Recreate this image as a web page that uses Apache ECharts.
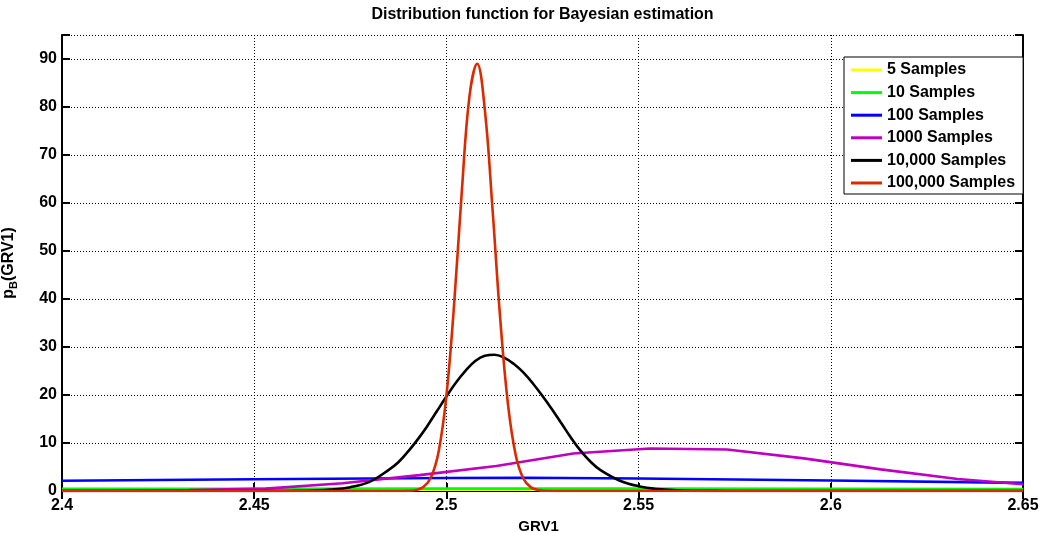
<!DOCTYPE html>
<html>
<head>
<meta charset="utf-8">
<script src="https://cdn.jsdelivr.net/npm/echarts@6/dist/echarts.min.js"></script>
<style>
html,body{margin:0;padding:0;background:#fff;}
#chart{width:1050px;height:533px;}
</style>
</head>
<body>
<div id="chart"></div>
<script>
// ---- data ----
const seriesNames = ['5 Samples', '10 Samples', '100 Samples', '1000 Samples', '10,000 Samples', '100,000 Samples'];

const x5 = [2.40, 2.45, 2.50, 2.55, 2.60, 2.65];
const y5 = [0.25, 0.25, 0.25, 0.25, 0.25, 0.25];

const x10 = [2.40, 2.45, 2.50, 2.55, 2.60, 2.65];
const y10 = [0.45, 0.47, 0.5, 0.5, 0.47, 0.42];

const x100 = [2.40, 2.45, 2.50, 2.52, 2.55, 2.60, 2.65];
const y100 = [2.15, 2.45, 2.7, 2.75, 2.6, 2.2, 1.7];

const x1000 = [2.40, 2.413, 2.433, 2.453, 2.473, 2.493, 2.513, 2.533, 2.553, 2.573, 2.593, 2.613, 2.633, 2.65];
const y1000 = [0.02, 0.05, 0.18, 0.5, 1.6, 3.3, 5.2, 7.8, 8.85, 8.65, 6.8, 4.5, 2.5, 1.4];

const x10k = [2.40, 2.45, 2.455, 2.46, 2.465, 2.47, 2.475, 2.48, 2.485, 2.4875, 2.49, 2.4925, 2.495, 2.4975, 2.50, 2.5025, 2.505, 2.5075, 2.51, 2.5125, 2.515, 2.5175, 2.52, 2.5225, 2.525, 2.5275, 2.53, 2.5325, 2.535, 2.5375, 2.54, 2.545, 2.55, 2.555, 2.56, 2.565, 2.57, 2.575, 2.65];
const y10k = [0, 0, 0.01, 0.03, 0.1, 0.3, 0.8, 1.9, 4.4, 6.0, 8.2, 10.7, 13.5, 16.6, 19.7, 22.6, 25.1, 27.1, 28.2, 28.4, 27.8, 26.5, 24.7, 22.4, 19.8, 17.0, 14.0, 11.0, 8.3, 6.1, 4.4, 2.2, 1.0, 0.4, 0.15, 0.05, 0.02, 0, 0];

const x100k = [2.40, 2.484, 2.486, 2.488, 2.490, 2.492, 2.494, 2.496, 2.498, 2.500, 2.502, 2.504, 2.506, 2.508, 2.510, 2.512, 2.514, 2.516, 2.518, 2.520, 2.522, 2.524, 2.526, 2.528, 2.530, 2.532, 2.65];
const y100k = [0, 0, 0, 0.005, 0.036, 0.19, 0.81, 2.85, 8.3, 19.8, 38.8, 62.3, 82.2, 89.0, 79.4, 58.7, 35.9, 18.2, 7.6, 2.6, 0.76, 0.18, 0.04, 0.006, 0, 0, 0];

const xTickLabels = ['2.4', '2.45', '2.5', '2.55', '2.6', '2.65'];
const yTickLabels = ['0', '10', '20', '30', '40', '50', '60', '70', '80', '90'];

// ---- chart ----
const colors = ['#ffff00', '#00ff00', '#0000ff', '#bf00bf', '#000000', '#dc2a00'];
const xs = [x5, x10, x100, x1000, x10k, x100k];
const ys = [y5, y10, y100, y1000, y10k, y100k];
const smooths = [false, false, false, false, 0.4, 0.4];

const FONT = '"Liberation Sans", Arial, Helvetica, sans-serif';

const series = seriesNames.map((n, i) => ({
  name: n,
  type: 'line',
  data: xs[i].map((x, j) => [x, ys[i][j]]),
  showSymbol: false,
  symbol: 'none',
  smooth: smooths[i],
  lineStyle: { color: colors[i], width: 2.6 },
  itemStyle: { color: colors[i] },
  z: 2 + i,
  animation: false
}));

const axisLineStyle = { lineStyle: { color: '#000', width: 2 } };
const tickStyle = { inside: true, length: 8, lineStyle: { color: '#000', width: 2 } };
const gridLine = { show: true, lineStyle: { color: '#000', width: 1, type: [1, 2] } };

const chart = echarts.init(document.getElementById('chart'));
chart.setOption({
  animation: false,
  backgroundColor: '#fff',
  textStyle: { fontFamily: FONT },
  title: {
    text: 'Distribution function for Bayesian estimation',
    left: 542.5,
    textAlign: 'center',
    top: 7,
    padding: 0,
    textStyle: { fontFamily: FONT, fontWeight: 'bold', fontSize: 16, color: '#000' }
  },
  grid: { left: 62, right: 27, top: 35, bottom: 42, containLabel: false, outerBoundsMode: 'none' },
  legend: {
    orient: 'vertical',
    left: 844,
    top: 57,
    padding: [5, 8, 3, 7],
    itemWidth: 31,
    itemHeight: 3,
    itemGap: 6.6,
    icon: 'rect',
    backgroundColor: '#fff',
    borderColor: '#000',
    borderWidth: 1,
    borderRadius: 0,
    z: 20,
    data: seriesNames,
    textStyle: { fontFamily: FONT, fontWeight: 'bold', fontSize: 16, lineHeight: 16, color: '#000' }
  },
  xAxis: [
    {
      type: 'value', min: 2.4, max: 2.65, interval: 0.05, position: 'bottom',
      axisLine: axisLineStyle, axisTick: tickStyle,
      axisLabel: {
        color: '#000', fontWeight: 'bold', fontSize: 16, margin: 7, fontFamily: FONT,
        formatter: v => xTickLabels[Math.round((v - 2.4) / 0.05)] || ''
      },
      splitLine: gridLine,
      name: 'GRV1', nameLocation: 'middle', nameGap: 18,
      nameTextStyle: { color: '#000', fontWeight: 'bold', fontSize: 15, fontFamily: FONT, padding: [0, 8, 0, 0] }
    },
    {
      type: 'value', min: 2.4, max: 2.65, interval: 0.05, position: 'top',
      axisLine: axisLineStyle, axisTick: tickStyle,
      axisLabel: { show: false }, splitLine: { show: false }
    }
  ],
  yAxis: [
    {
      type: 'value', min: 0, max: 95, interval: 10, position: 'left',
      axisLine: axisLineStyle, axisTick: tickStyle,
      axisLabel: {
        color: '#000', fontWeight: 'bold', fontSize: 16, margin: 5, fontFamily: FONT,
        formatter: v => (Math.abs(v / 10 - Math.round(v / 10)) < 1e-6 ? (yTickLabels[Math.round(v / 10)] || '') : '')
      },
      splitLine: gridLine,
      name: '{m|p}{s|B}{m|(GRV1)}', nameLocation: 'middle', nameGap: 43, nameRotate: 90,
      nameTextStyle: {
        color: '#000', fontWeight: 'bold', fontFamily: FONT,
        rich: {
          m: { fontSize: 16, fontWeight: 'bold', color: '#000', lineHeight: 20, verticalAlign: 'middle', fontFamily: FONT },
          s: { fontSize: 11, fontWeight: 'bold', color: '#000', lineHeight: 11, verticalAlign: 'bottom', fontFamily: FONT }
        }
      }
    },
    {
      type: 'value', min: 0, max: 95, interval: 10, position: 'right',
      axisLine: axisLineStyle, axisTick: tickStyle,
      axisLabel: { show: false }, splitLine: { show: false }
    }
  ],
  series: series
});
</script>
</body>
</html>
